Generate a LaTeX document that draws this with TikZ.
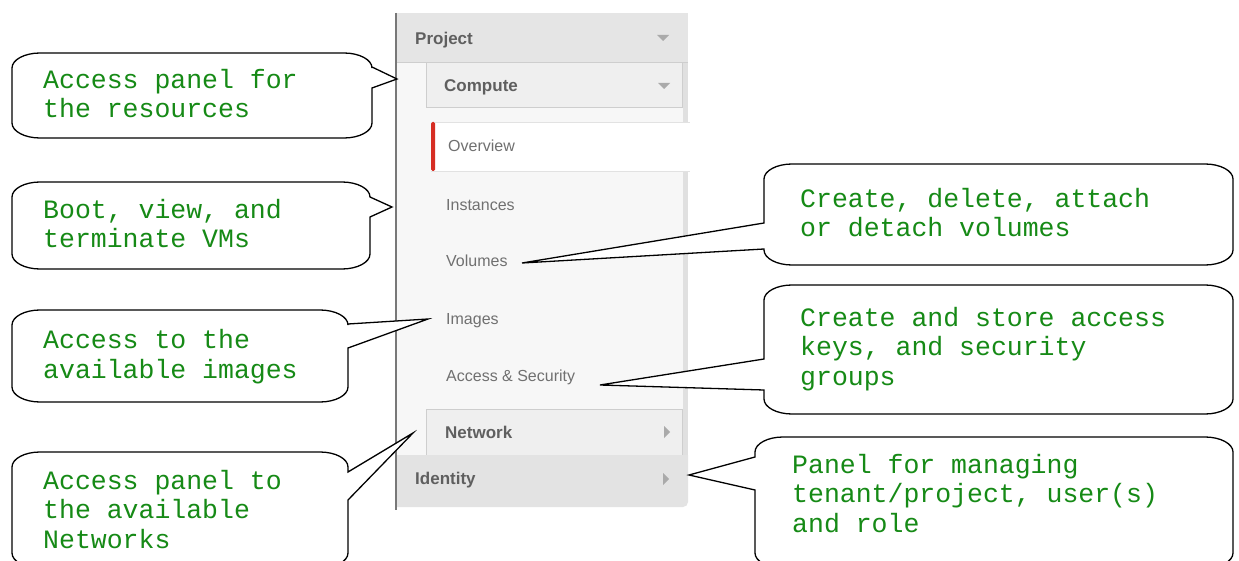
\documentclass[tikz,border=0pt]{standalone}
\usepackage{fontspec}
\newfontfamily\cmono{Liberation Mono}
\newfontfamily\csans{Liberation Sans}
\definecolor{cgreen}{RGB}{22,138,22}
\definecolor{hdrgray}{RGB}{95,95,95}
\definecolor{itmgray}{RGB}{112,112,112}
\definecolor{panelbg}{RGB}{247,247,247}
\definecolor{stripbg}{RGB}{224,224,224}
\definecolor{hdrbg}{RGB}{229,229,229}
\definecolor{subbg}{RGB}{239,239,239}
\definecolor{subline}{RGB}{206,206,206}
\definecolor{idbg}{RGB}{227,227,227}
\definecolor{ovred}{RGB}{214,45,35}
\definecolor{trigray}{RGB}{170,170,170}
\definecolor{leftline}{RGB}{120,120,120}
\def\crx{28}
\def\cry{15}
% callout with pointer on the right side: l,t,r,b,y1,y2,tip
\newcommand{\calloutR}[7]{%
  \draw[cshape] ({#1+\crx},#2) -- ({#3-\crx},#2)
    .. controls ({#3-0.45*\crx},#2) and (#3,{#2+0.45*\cry}) .. (#3,{#2+\cry})
    -- (#3,#5) -- (#7) -- (#3,#6) -- (#3,{#4-\cry})
    .. controls (#3,{#4-0.45*\cry}) and ({#3-0.45*\crx},#4) .. ({#3-\crx},#4)
    -- ({#1+\crx},#4)
    .. controls ({#1+0.45*\crx},#4) and (#1,{#4-0.45*\cry}) .. (#1,{#4-\cry})
    -- (#1,{#2+\cry})
    .. controls (#1,{#2+0.45*\cry}) and ({#1+0.45*\crx},#2) .. ({#1+\crx},#2) -- cycle;}
% callout with pointer on the left side: l,t,r,b,y1,y2,tip
\newcommand{\calloutL}[7]{%
  \draw[cshape] ({#1+\crx},#2) -- ({#3-\crx},#2)
    .. controls ({#3-0.45*\crx},#2) and (#3,{#2+0.45*\cry}) .. (#3,{#2+\cry})
    -- (#3,{#4-\cry})
    .. controls (#3,{#4-0.45*\cry}) and ({#3-0.45*\crx},#4) .. ({#3-\crx},#4)
    -- ({#1+\crx},#4)
    .. controls ({#1+0.45*\crx},#4) and (#1,{#4-0.45*\cry}) .. (#1,{#4-\cry})
    -- (#1,#6) -- (#7) -- (#1,#5) -- (#1,{#2+\cry})
    .. controls (#1,{#2+0.45*\cry}) and ({#1+0.45*\crx},#2) .. ({#1+\crx},#2) -- cycle;}
\begin{document}
\begin{tikzpicture}[x=1pt,y=-1pt,
  cshape/.style={draw=black, fill=white, line width=1.3pt, line join=miter},
  ctext/.style={font=\cmono\fontsize{26.5}{29.3}\selectfont, text=cgreen, align=left, inner sep=0pt, anchor=base west},
  hdr/.style={font=\csans\bfseries\fontsize{17}{20}\selectfont, text=hdrgray, inner sep=0pt, anchor=base west},
  itm/.style={font=\csans\fontsize{16}{19}\selectfont, text=itmgray, inner sep=0pt, anchor=base west},
  tri/.style={fill=trigray, draw=none}]
\useasboundingbox (0,0) rectangle (1239,561);
\clip (0,0) rectangle (1239,561);
\fill[white] (0,0) rectangle (1239,561);
% ---- side panel ----
\fill[panelbg] (397,62) rectangle (683,455);
\fill[stripbg] (683,62) rectangle (688,455);
\fill[hdrbg] (397,13) rectangle (688,62);
\draw[subline, line width=0.8pt] (397,62) -- (688,62);
\draw[subline, fill=subbg, line width=1pt] (426,63) rectangle (682,108);
\fill[white] (431,122) rectangle (690,171);
\draw[subline!60, line width=0.8pt] (431,122) -- (690,122) (431,171) -- (690,171);
\fill[ovred, rounded corners=1.5pt] (431,122) rectangle (435,171);
\draw[subline, fill=subbg, line width=1pt] (426,409) rectangle (682,455);
\fill[idbg] (397,455) -- (688,455) [rounded corners=5pt] -- (688,507) [sharp corners] -- (397,507) -- cycle;
\draw[leftline, line width=1.6pt] (396,13) -- (396,510);
% triangles
\fill[tri] (657,35) -- (669,35) -- (663,41) -- cycle;
\fill[tri] (658,83) -- (670,83) -- (664,89) -- cycle;
\fill[tri] (664,426) -- (670,432) -- (664,438) -- cycle;
\fill[tri] (663,473) -- (669,479) -- (663,485) -- cycle;
% labels
\node[hdr] (project) at (415,45) {Project};
\node[hdr] (compute) at (444,92) {Compute};
\node[itm] (overview) at (448,152) {Overview};
\node[itm] (instances) at (446,211) {Instances};
\node[itm] (volumes) at (446,267) {Volumes};
\node[itm] (images) at (446,324) {Images};
\node[itm] (access) at (446,381) {Access \& Security};
\node[hdr] (network) at (445,438) {Network};
\node[hdr] (identity) at (415,484) {Identity};
% ---- pointer tips ----
\coordinate (p1) at (397,79);
\coordinate (p2) at (392,207);
\coordinate (p3) at (428,319);
\coordinate (p4) at (413,433);
\coordinate (p5) at (522,263);
\coordinate (p6) at (600,385);
\coordinate (p7) at (689,475);
% ---- callouts ----
\calloutR{12}{53}{372}{138}{67}{88}{p1}
\calloutR{12}{182}{370}{269}{197}{217}{p2}
\calloutR{12}{310}{348}{402}{324}{348}{p3}
\calloutR{12}{452}{348}{568}{472}{500}{p4}
\calloutL{764}{164}{1233}{265}{223}{249}{p5}
\calloutL{764}{285}{1233}{414}{359}{390}{p6}
\calloutL{755}{437}{1233}{568}{457}{490}{p7}
% text nodes: anchor = baseline of the last line
\node[ctext] (c1) at (43,118) {Access panel for\\the resources};
\node[ctext] (c2) at (43,248) {Boot, view, and\\terminate VMs};
\node[ctext] (c3) at (43,378) {Access to the\\available images};
\node[ctext] (c4) at (43,548) {Access panel to\\the available\\Networks};
\node[ctext] (c5) at (800,237) {Create, delete, attach\\or detach volumes};
\node[ctext] (c6) at (800,385) {Create and store access\\keys, and security\\groups};
\node[ctext] (c7) at (792,532) {Panel for managing\\tenant/project, user(s)\\and role};
\end{tikzpicture}
\end{document}
